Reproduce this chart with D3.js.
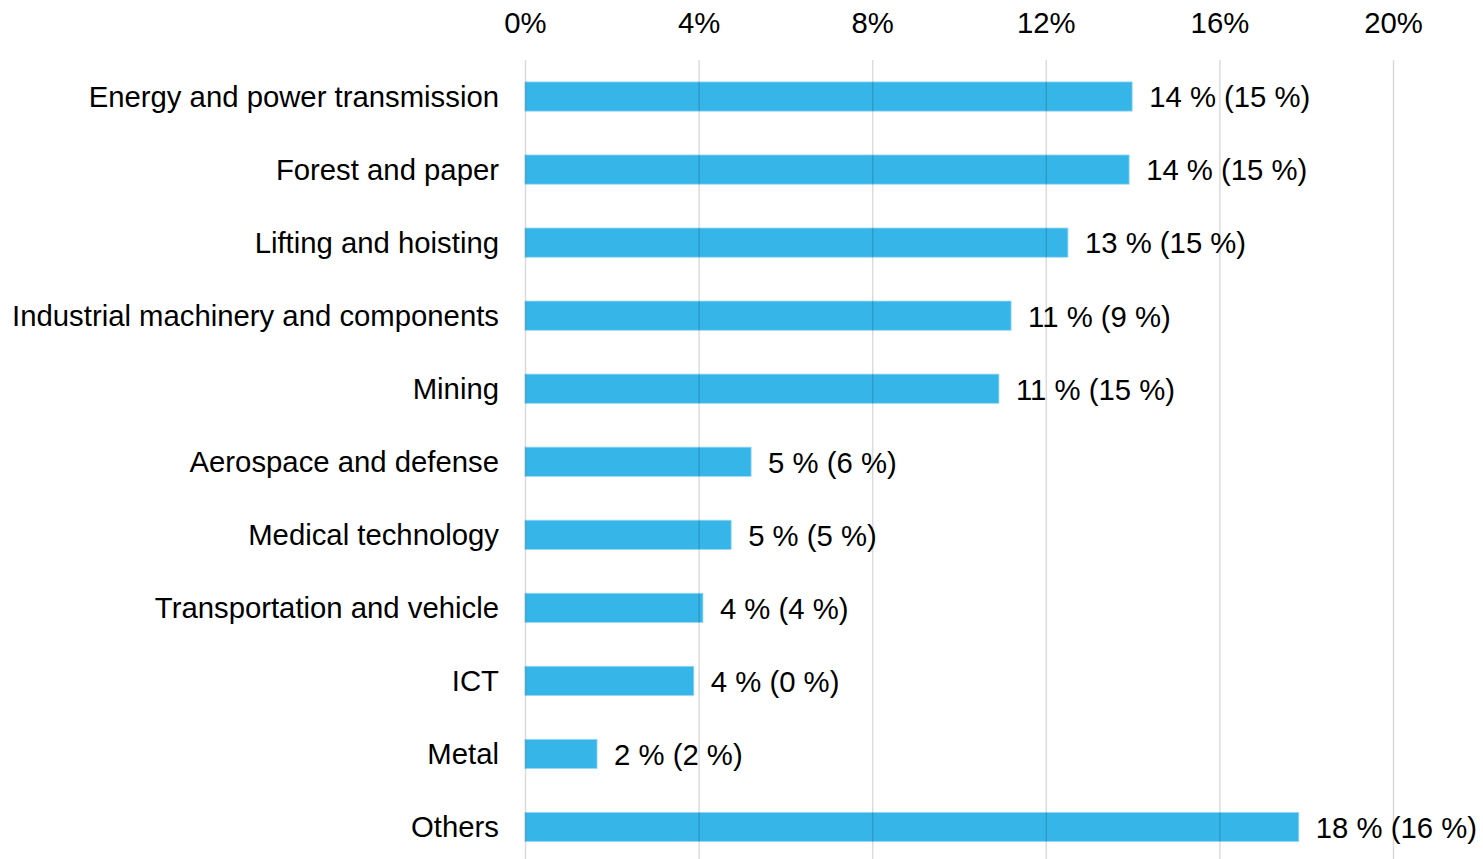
<!DOCTYPE html>
<html>
<head>
<meta charset="utf-8">
<script src="https://cdn.jsdelivr.net/npm/d3@7"></script>
<style>
  html, body { margin: 0; padding: 0; background: #ffffff; }
  svg { display: block; font-family: "Liberation Sans", Arial, sans-serif; }
</style>
</head>
<body>
<svg id="chart" width="1483" height="859"></svg>
<script>
// Share of sales by customer industry, current year (previous year in brackets)
const categories = [
  "Energy and power transmission",
  "Forest and paper",
  "Lifting and hoisting",
  "Industrial machinery and components",
  "Mining",
  "Aerospace and defense",
  "Medical technology",
  "Transportation and vehicle",
  "ICT",
  "Metal",
  "Others"
];
const shareCurrent = [13.99, 13.92, 12.51, 11.2, 10.92, 5.21, 4.75, 4.1, 3.89, 1.66, 17.83];
const sharePrevious = [15, 15, 15, 9, 15, 6, 5, 4, 0, 2, 16];
const tickValues = [0, 4, 8, 12, 16, 20];

const width = 1483, height = 859;
const svg = d3.select("#chart");

const x = d3.scaleLinear().domain([0, 20]).range([525, 1393]);
const y = d3.scaleBand()
  .domain(categories)
  .range([60, 863.5])
  .paddingInner(0.6)
  .paddingOuter(0.3);

const fontSize = 29.3;

// Top axis labels
const topAxis = svg.append("g")
  .attr("transform", "translate(0,60)")
  .call(d3.axisTop(x).tickValues(tickValues).tickFormat(d => d + "%").tickSize(0).tickPadding(27));
topAxis.select(".domain").remove();
topAxis.selectAll("text")
  .attr("font-size", fontSize)
  .attr("font-family", "Liberation Sans, Arial, sans-serif")
  .attr("fill", "#000");

// Bars
svg.append("g").selectAll("rect")
  .data(categories)
  .join("rect")
  .attr("x", x(0))
  .attr("y", d => y(d))
  .attr("width", (d, i) => x(shareCurrent[i]) - x(0))
  .attr("height", y.bandwidth())
  .attr("fill", "#35b5e8")
  .attr("stroke", "#9ad8f4")
  .attr("stroke-width", 0.8);

// Vertical gridlines drawn over the bars
const grid = svg.append("g")
  .attr("transform", "translate(0,60)")
  .call(d3.axisBottom(x).tickValues(tickValues).tickSize(height - 60).tickFormat(""));
grid.select(".domain").remove();
grid.selectAll("line")
  .attr("stroke", "rgba(0,0,0,0.14)")
  .attr("stroke-width", 1.5);

// Category labels
const left = svg.append("g")
  .attr("transform", `translate(${x(0)},0)`)
  .call(d3.axisLeft(y).tickSize(0).tickPadding(26));
left.select(".domain").remove();
left.selectAll("text")
  .attr("font-size", fontSize)
  .attr("font-family", "Liberation Sans, Arial, sans-serif")
  .attr("fill", "#000")
  .attr("dy", "0.35em");

// Value labels
svg.append("g").selectAll("text")
  .data(categories)
  .join("text")
  .attr("x", (d, i) => x(shareCurrent[i]) + 17)
  .attr("y", d => y(d) + y.bandwidth() / 2)
  .attr("dy", "0.37em")
  .attr("font-size", fontSize)
  .attr("fill", "#000")
  .text((d, i) => `${Math.round(shareCurrent[i])} % (${sharePrevious[i]} %)`);
</script>
</body>
</html>
